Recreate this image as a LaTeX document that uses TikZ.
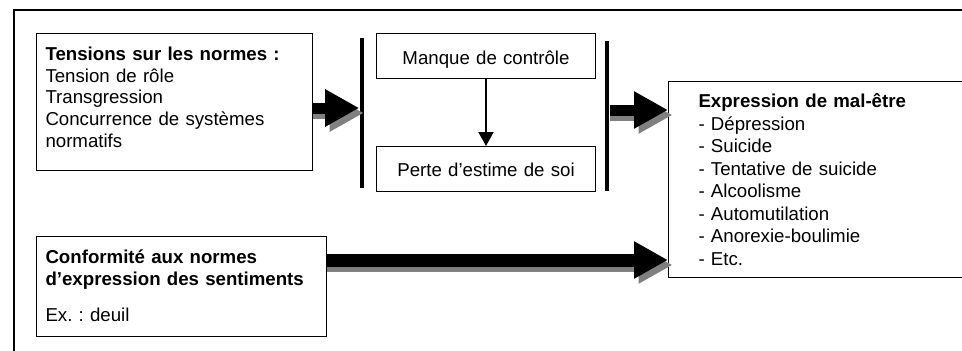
\documentclass[tikz,border=0pt]{standalone}
\usepackage{fontspec}
\setmainfont{Liberation Sans}
\frenchspacing
\usetikzlibrary{arrows.meta,calc}
\definecolor{shadowgray}{RGB}{128,128,128}
\tikzset{every picture/.style={line width=0.75pt}}
\tikzset{
  normbox/.style={draw, fill=white, anchor=north west, align=left, inner xsep=6.75pt, inner ysep=0pt, font=\fontsize{14}{16.3}\selectfont},
  stepbox/.style={draw, fill=white, anchor=north west, align=center, inner sep=0pt, text width=164.25pt, font=\fontsize{14}{16.3}\selectfont},
  vbar/.style={fill=black, inner sep=0pt, minimum width=3.4pt, minimum height=112.5pt},
  fatarrow/.style={line width=8.25pt, -{Triangle[length=25.5pt, width=26.25pt]}},
  fatshadow/.style={fatarrow, draw=shadowgray, fill=shadowgray},
}

\begin{document}
\begin{tikzpicture}[x=0.75pt,y=0.75pt,yscale=-1,xscale=1]
\useasboundingbox (0,0) rectangle (962,350);

%Shape: Rectangle [outer frame]
\draw [line width=1.5pt] (14,10) rectangle (1000,400) ;

%Shape: Rectangle [tensions]
\node [normbox, text width=193.5pt, text height=20.25pt, text depth=82.5pt] (tens) at (36,33)
  {\textbf{Tensions sur les normes :}\\Tension de rôle\\Transgression\\Concurrence de systèmes\\normatifs};
%Shape: Rectangle [conformite]
\node [normbox, text width=204pt, text height=20.25pt, text depth=54.75pt] (conf) at (36,236)
  {\textbf{Conformité aux normes}\\\textbf{d’expression des sentiments}\\[10.7pt]Ex. : deuil};
%Shape: Rectangle [manque]
\node [stepbox, text height=23.25pt, text depth=10.5pt] (manque) at (376,33) {Manque de contrôle};
%Shape: Rectangle [perte]
\node [stepbox, text height=22.5pt, text depth=11.25pt] (perte) at (376,146) {Perte d’estime de soi};
%Shape: Rectangle [expression]
\node [normbox, inner xsep=22.5pt, text width=185pt, text height=19.5pt, text depth=127.5pt, font=\fontsize{14}{16.9}\selectfont] (expr) at (668,81)
  {\textbf{Expression de mal-être}\\- Dépression\\- Suicide\\- Tentative de suicide\\- Alcoolisme\\- Automutilation\\- Anorexie-boulimie\\- Etc.};

%Straight Lines [bars]
\node [vbar] (barL) at (362,113) {};
\node [vbar] (barR) at (607,115.5) {};

%Straight Lines [manque to perte]
\draw [line width=1.5pt, -{Triangle[length=10.5pt, width=11.25pt]}] (manque) -- (perte) ;

%Block Arrows
\coordinate (a1) at ($(tens.east)+(0,6)$);
\coordinate (a2) at ($(barR.east)+(0,-5.5)$);
\coordinate (a3) at ($(conf.east)+(0,-26.5)$);
\draw [fatshadow] ($(a1)+(0,5)$) -- ($(a1 -| barL.west)+(4.5,5)$) ;
\draw [fatarrow] (a1) -- (a1 -| barL.west) ;
\draw [fatshadow] ($(a2)+(0,5)$) -- ($(a2 -| expr.west)+(4.5,5)$) ;
\draw [fatarrow] (a2) -- (a2 -| expr.west) ;
\draw [fatshadow, line width=9.75pt] ($(a3)+(0,5)$) -- ($(a3 -| expr.west)+(4.5,5)$) ;
\draw [fatarrow, line width=9.75pt] (a3) -- (a3 -| expr.west) ;
\end{tikzpicture}
\end{document}
